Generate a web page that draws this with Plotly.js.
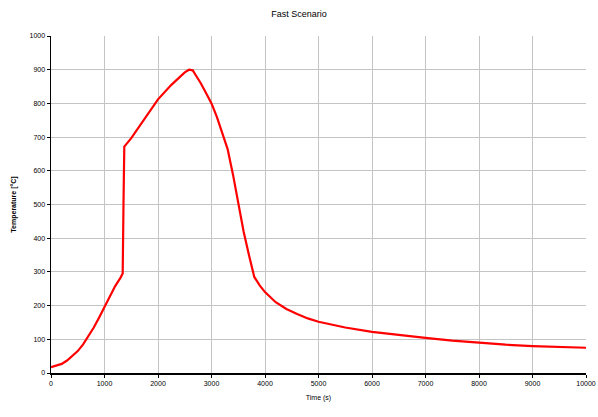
<!DOCTYPE html>
<html><head><meta charset="utf-8">
<script src="https://cdn.plot.ly/plotly-3.0.1.min.js"></script>
<style>html,body{margin:0;padding:0;background:#fff}#chart{width:598px;height:417px}</style>
</head><body><div id="chart"></div>
<script>
const timeS = [0,100,200,300,400,500,600,700,800,900,1000,1100,1200,1300,1340,1355,1370,1500,1750,2000,2250,2500,2580,2650,2700,2800,2900,3000,3100,3200,3300,3400,3500,3600,3700,3760,3800,3900,4000,4200,4400,4600,4800,5000,5500,6000,6500,7000,7500,8000,8500,9000,9500,10000];
const tempC = [17,22,27,37,50,65,85,110,135,165,195,225,258,283,295,500,672,697,755,812,855,892,900,898,885,860,830,800,760,715,665,590,500,420,350,305,285,260,240,210,190,175,162,152,135,122,112,104,96,89,84,80,77,75];
const xTicks = [0,1000,2000,3000,4000,5000,6000,7000,8000,9000,10000];
const yTicks = [0,100,200,300,400,500,600,700,800,900,1000];

Plotly.newPlot('chart', [{
  x: timeS, y: tempC, type: 'scatter', mode: 'lines',
  line: {color: '#ff0000', width: 2.2}, hoverinfo: 'skip'
}], {
  width: 598, height: 417,
  margin: {l: 51, r: 12, t: 36, b: 44},
  paper_bgcolor: '#ffffff', plot_bgcolor: '#ffffff',
  showlegend: false,
  font: {family: 'Liberation Sans, Arial, sans-serif', color: '#000', size: 7},
  title: {text: 'Fast Scenario', x: 0.5, xanchor: 'center', y: 0.966, yanchor: 'middle',
          font: {size: 9, color: '#000', family: 'Liberation Sans, Arial, sans-serif'}},
  xaxis: {
    range: [0, 10000], tickvals: xTicks, ticktext: xTicks.map(String),
    showgrid: true, gridcolor: '#c4c4c4', gridwidth: 1,
    showline: true, linecolor: '#000', linewidth: 1.5,
    ticks: 'outside', ticklen: 3, tickcolor: '#000',
    ticklabeloverflow: 'allow',
    zeroline: false, tickfont: {size: 7, color: '#000'},
    title: {text: 'Time (s)', font: {size: 7, color: '#000'}, standoff: 9}
  },
  yaxis: {
    range: [0, 1000], tickvals: yTicks, ticktext: yTicks.map(String),
    showgrid: true, gridcolor: '#c4c4c4', gridwidth: 1,
    showline: true, linecolor: '#000', linewidth: 1.5,
    ticks: 'outside', ticklen: 3, tickcolor: '#000',
    zeroline: false, tickfont: {size: 7, color: '#000'},
    title: {text: '<b>Temperature [°C]</b>', font: {size: 7, color: '#000'}, standoff: 12}
  }
}, {staticPlot: true, displayModeBar: false});
</script></body></html>
